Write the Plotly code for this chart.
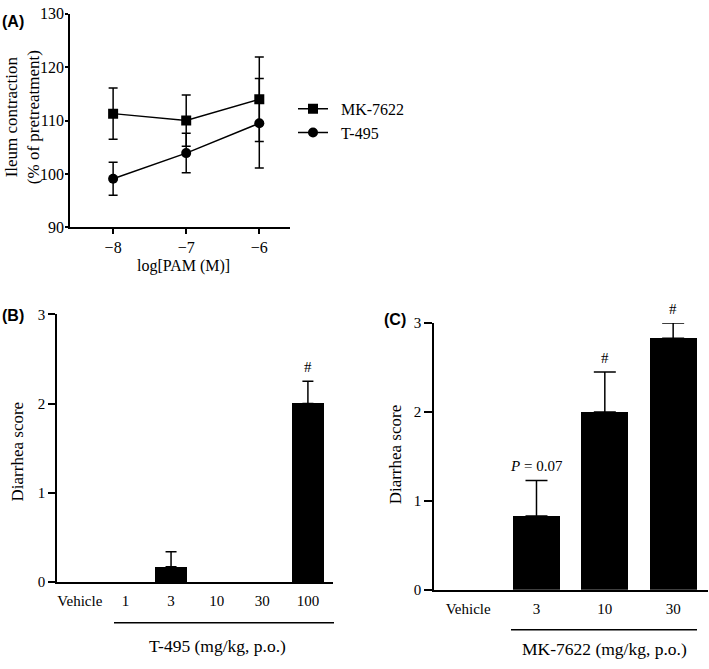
import plotly.graph_objects as go

W, H = 709, 669

# ---------- data ----------
log_pam = [-8, -7, -6]
mk_mean = [111.3, 110.0, 114.0]
mk_sem = [4.8, 4.8, 7.9]
t_mean = [99.1, 103.9, 109.5]
t_sem = [3.1, 3.7, 8.4]

b_cats = ["Vehicle", "1", "3", "10", "30", "100"]
b_vals = [0, 0, 0.17, 0, 0, 2.0]
b_err = [0, 0, 0.17, 0, 0, 0.25]
b_marks = ["", "", "", "", "", "#"]

c_cats = ["Vehicle", "3", "10", "30"]
c_vals = [0, 0.83, 2.0, 2.83]
c_err = [0, 0.40, 0.45, 0.17]
c_marks = ["", "<i>P</i> = 0.07", "#", "#"]

SERIF = "Liberation Serif"
SANS = "Liberation Sans"


def px(x):
    return x / W


def py(y):
    return 1 - y / H


fig = go.Figure()

# ---------- panel A ----------
fig.add_trace(go.Scatter(
    x=log_pam, y=mk_mean, name="&nbsp;&nbsp;MK-7622", mode="lines+markers",
    line=dict(color="black", width=1.5),
    marker=dict(symbol="square", size=10, color="black"),
    error_y=dict(type="data", array=mk_sem, color="black", thickness=1.5, width=4.5),
    xaxis="x", yaxis="y"))
fig.add_trace(go.Scatter(
    x=log_pam, y=t_mean, name="&nbsp;&nbsp;T-495", mode="lines+markers",
    line=dict(color="black", width=1.5),
    marker=dict(symbol="circle", size=10, color="black"),
    error_y=dict(type="data", array=t_sem, color="black", thickness=1.5, width=4.5),
    xaxis="x", yaxis="y"))


def bars(vals, errs, cap, xa, ya):
    idx = list(range(len(vals)))
    fig.add_trace(go.Bar(
        x=idx, y=vals, width=0.69, showlegend=False,
        marker=dict(color="black", line=dict(width=0)),
        xaxis=xa, yaxis=ya))
    keep = [i for i in idx if errs[i]]
    fig.add_trace(go.Scatter(
        x=keep, y=[vals[i] for i in keep], mode="markers", showlegend=False,
        marker=dict(size=1, color="black", opacity=0),
        error_y=dict(type="data", symmetric=False, array=[errs[i] for i in keep],
                     arrayminus=[0] * len(keep), color="black", thickness=1.5, width=cap),
        xaxis=xa, yaxis=ya))


bars(b_vals, b_err, 5.5, "x2", "y2")
bars(c_vals, c_err, 11, "x3", "y3")


def ax(size, ticklen, ticks="outside", standoff=0):
    return dict(showline=True, linecolor="black", linewidth=1.5, showgrid=False,
                zeroline=False, tickfont=dict(family=SERIF, size=size, color="black"),
                ticks=ticks, ticklen=ticklen, tickwidth=1.5, tickcolor="black",
                ticklabelstandoff=standoff)


fig.update_layout(
    width=W, height=H, margin=dict(l=0, r=0, t=0, b=0),
    plot_bgcolor="white", paper_bgcolor="white",
    font=dict(family=SERIF, size=16, color="black"),
    xaxis=dict(domain=[px(70), px(290)], range=[-8.59, -5.58], anchor="y",
               tickvals=log_pam, **ax(16, 5)),
    yaxis=dict(domain=[py(225), py(6)], range=[90, 130], anchor="x",
               tickvals=[90, 100, 110, 120, 130], **ax(16, 3, standoff=-2)),
    xaxis2=dict(domain=[px(57), px(333)], range=[-0.5, 5.55], anchor="y2",
                tickvals=list(range(len(b_cats))), ticktext=b_cats,
                **ax(15, 0, "", standoff=4)),
    yaxis2=dict(domain=[py(589), py(314.3)], range=[0, 3], anchor="x2",
                tickvals=[0, 1, 2, 3], **ax(15, 7)),
    xaxis3=dict(domain=[px(434), px(708)], range=[-0.5, 3.51], anchor="y3",
                tickvals=list(range(len(c_cats))), ticktext=c_cats,
                **ax(15, 0, "", standoff=4)),
    yaxis3=dict(domain=[py(597), py(323.3)], range=[0, 3], anchor="x3",
                tickvals=[0, 1, 2, 3], **ax(15, 8)),
    bargap=0,
    legend=dict(x=px(293), y=py(86), xanchor="left", yanchor="top",
                font=dict(family=SERIF, size=16, color="black"),
                bgcolor="rgba(0,0,0,0)", tracegroupgap=0, itemwidth=30),
    showlegend=True,
)

ann = []
ann.append(dict(text="<b>(A)</b>", x=px(0), y=py(14), xanchor="left", yanchor="middle",
                font=dict(family=SANS, size=16)))
ann.append(dict(text="<b>(B)</b>", x=px(0), y=py(316), xanchor="left", yanchor="middle",
                font=dict(family=SANS, size=16)))
ann.append(dict(text="<b>(C)</b>", x=px(382), y=py(320), xanchor="left", yanchor="middle",
                font=dict(family=SANS, size=16)))
ann.append(dict(text="Ileum contraction<br>(% of pretreatment)", x=px(22), y=py(112),
                textangle=-90, xanchor="center", yanchor="middle",
                font=dict(family=SERIF, size=17)))
ann.append(dict(text="log[PAM (M)]", x=px(183), y=py(265), xanchor="center", yanchor="middle",
                font=dict(family=SERIF, size=16)))
ann.append(dict(text="Diarrhea score", x=px(17), y=py(455), textangle=-90,
                xanchor="center", yanchor="middle", font=dict(family=SERIF, size=17)))
ann.append(dict(text="Diarrhea score", x=px(395), y=py(458), textangle=-90,
                xanchor="center", yanchor="middle", font=dict(family=SERIF, size=17)))
ann.append(dict(text="T-495 (mg/kg, p.o.)", x=px(217), y=py(655), xanchor="center",
                yanchor="middle", font=dict(family=SERIF, size=17.5)))
ann.append(dict(text="MK-7622 (mg/kg, p.o.)", x=px(604), y=py(658), xanchor="center",
                yanchor="middle", font=dict(family=SERIF, size=17.5)))
for i, m in enumerate(b_marks):
    if m:
        ann.append(dict(text=m, x=i, y=b_vals[i] + b_err[i], xref="x2", yref="y2",
                        xanchor="center", yanchor="bottom", yshift=4,
                        font=dict(family=SERIF, size=15)))
for i, m in enumerate(c_marks):
    if m:
        ann.append(dict(text=m, x=i, y=c_vals[i] + c_err[i], xref="x3", yref="y3",
                        xanchor="center", yanchor="bottom", yshift=4,
                        font=dict(family=SERIF, size=15)))
for a in ann:
    a.setdefault("xref", "paper")
    a.setdefault("yref", "paper")
    a.setdefault("showarrow", False)
fig.update_layout(annotations=ann)

fig.add_shape(type="line", xref="paper", yref="paper", x0=px(114), x1=px(334),
              y0=py(630.7), y1=py(630.7), line=dict(color="black", width=1.5))
fig.add_shape(type="line", xref="paper", yref="paper", x0=px(511), x1=px(697),
              y0=py(638), y1=py(638), line=dict(color="black", width=1.5))

fig.write_html("out.html", config={"displayModeBar": False},
               post_script="document.body.style.margin='0';")
